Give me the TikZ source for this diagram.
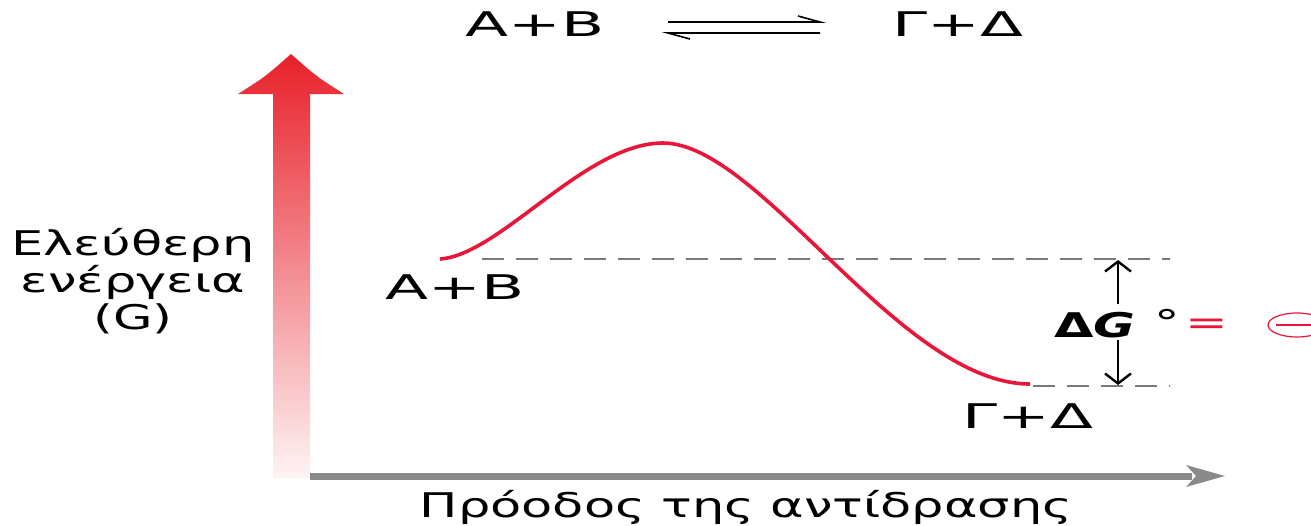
\documentclass[tikz,border=0pt]{standalone}
\usepackage{fontspec}
\setmainfont{DejaVu Sans}[FakeStretch=1.5]
\newfontfamily\widefont{DejaVu Sans}[FakeStretch=1.85]
\usetikzlibrary{arrows.meta,shapes.geometric}
\definecolor{curvered}{HTML}{E8173A}
\definecolor{arrowred}{HTML}{E8202A}
\definecolor{axisgray}{HTML}{8A8A8A}
\definecolor{dashgray}{HTML}{7A7A7A}
\begin{document}
\begin{tikzpicture}[x=1pt,y=-1pt,
  lbl/.style={inner sep=0pt, font=\fontsize{34}{37}\selectfont},
  chem/.style={inner sep=0pt, font=\fontsize{34}{37}\selectfont\widefont},
  dashln/.style={draw=dashgray, line width=1.4pt, dash pattern=on 22pt off 12pt},
  dgarrow/.style={draw=black, line width=2.4pt, -{Straight Barb[length=10pt,width=26pt,line width=2.4pt]}},
  eqline/.style={draw=black, line width=1.6pt}]
\useasboundingbox (0,0) rectangle (1311,525);
% vertical gradient arrow
\shade[top color=arrowred, middle color=arrowred!65, bottom color=arrowred!5]
  (273,478) -- (273,94) -- (238,94) .. controls (265.5,76.5) .. (291,54)
  .. controls (316.5,76.5) .. (344,94) -- (310,94) -- (310,478) -- cycle;
% horizontal axis arrow
\fill[axisgray] (310,472.5) rectangle (1192,479.5);
\fill[axisgray] (1186,465) -- (1225,476) -- (1186,487) -- (1196,476) -- cycle;
% coordinates
\coordinate (start) at (440,259);
\coordinate (peak) at (663,143);
\coordinate (end) at (1030,384);
\coordinate (d1a) at (482,259);
\coordinate (d1b) at (1170,259);
\coordinate (d2a) at (1033,386);
\coordinate (d2b) at (1170,386);
% dashed levels
\draw[dashln] (d1a) -- (d1b);
\draw[dashln] (d2a) -- (d2b);
% energy curve
\draw[curvered, line width=3.6pt]
  (start) .. controls (500,255) and (585,143) .. (peak)
  .. controls (760,143) and (900,384) .. (end);
% labels
\node[chem] (ab) at (455,287) {A+B};
\node[chem] (gd) at (1028,416) {Γ+Δ};
\node[chem] (abtop) at (535,24) {A+B};
\node[chem] (gdtop) at (958,24) {Γ+Δ};
\node[lbl, align=center] (ylab) at (133,281) {Ελεύθερη\\ενέργεια\\(G)};
\node[lbl] (xlab) at (746,507) {Πρόοδος της αντίδρασης};
% Delta G
\node[lbl, font=\fontsize{34}{37}\selectfont\bfseries] (dg) at (1095,325) {Δ\textit{G}};
\node[lbl] (deg) at (1167,322) {°};
\node[lbl, text=curvered] (eq) at (1207,327) {=};
\coordinate (dgtop) at (1118,304);
\coordinate (dgtopend) at (1118,260);
\coordinate (dgbot) at (1118,340);
\coordinate (dgbotend) at (1118,385);
\draw[dgarrow] (dgtop) -- (dgtopend);
\draw[dgarrow] (dgbot) -- (dgbotend);
\node[draw=curvered, line width=1.2pt, ellipse, minimum width=58pt, minimum height=24pt, inner sep=0pt] (neg) at (1297,325) {};
\draw[curvered, line width=1.2pt] (1276,325) -- (1311,325);
% equilibrium arrows
\coordinate (e1a) at (668,22); \coordinate (e1b) at (820,22); \coordinate (e1c) at (798,16);
\coordinate (e2a) at (820,33); \coordinate (e2b) at (668,33); \coordinate (e2c) at (690,39);
\draw[eqline] (e1a) -- (e1b) -- (e1c);
\draw[eqline] (e2a) -- (e2b) -- (e2c);
\end{tikzpicture}
\end{document}
